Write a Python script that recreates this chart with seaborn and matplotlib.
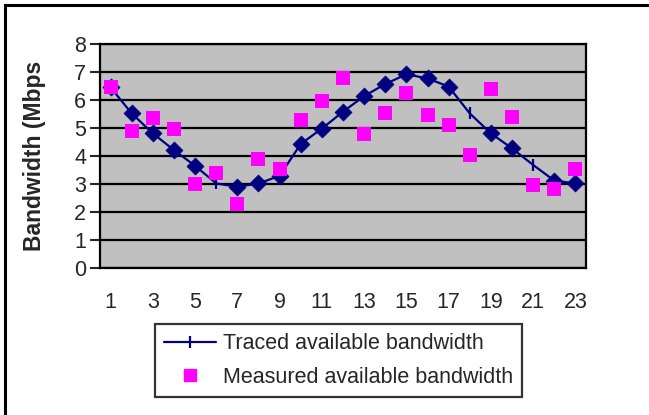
import numpy as np
import pandas as pd
import matplotlib
matplotlib.use("Agg")
import matplotlib.pyplot as plt
import seaborn as sns
from matplotlib.lines import Line2D
from matplotlib.patches import Rectangle

# Data
samples = list(range(1, 24))
traced = [6.45, 5.52, 4.81, 4.21, 3.65, 3.02, 2.90, 3.02, 3.29, 4.43, 4.98, 5.58,
          6.14, 6.57, 6.92, 6.77, 6.48, 5.52, 4.81, 4.27, 3.68, 3.12, 3.02]
measured = [6.48, 4.90, 5.37, 4.98, 3.01, 3.40, 2.27, 3.90, 3.55, 5.29, 5.98, 6.80,
            4.79, 5.55, 6.24, 5.48, 5.11, 4.05, 6.39, 5.40, 2.98, 2.83, 3.55]
# points of the traced series drawn with only the tick marker (no diamond)
tick_only = [6, 18, 21]
x_labels = [str(i) for i in range(1, 24, 2)]

df = pd.DataFrame({"sample": samples, "traced": traced, "measured": measured})
diamonds = df[~df["sample"].isin(tick_only)]

sns.set_style("white")
plt.rcParams['font.family'] = ['Liberation Sans', 'DejaVu Sans']

navy = "#000080"
magenta = "#FF00FF"

fig = plt.figure(figsize=(6.49, 4.15), dpi=100)
ax = fig.add_axes([100/649, 1-268/415, 486/649, 224/415])
ax.set_facecolor("#C0C0C0")

# outer chart border (top and left visible, rest cropped)
fig.patches.append(Rectangle((5/649, -0.1), 1.2, 1-5/415+0.1, transform=fig.transFigure,
                             fill=False, edgecolor="black", linewidth=2.2))

sns.lineplot(data=df, x="sample", y="traced", ax=ax, color=navy, linewidth=1.6,
             marker="|", markersize=9, markeredgewidth=1.6, markeredgecolor=navy, zorder=3)
sns.scatterplot(data=diamonds, x="sample", y="traced", ax=ax, marker="D", s=75,
                color=navy, edgecolor=navy, linewidth=0.5, zorder=4)
sns.scatterplot(data=df, x="sample", y="measured", ax=ax, marker="s", s=115,
                color=magenta, edgecolor=magenta, linewidth=0, zorder=5)

ax.set_xlim(0.5, 23.5)
ax.set_ylim(0, 8)
ax.set_yticks(range(0, 9))
ax.yaxis.grid(True, color="black", linewidth=1.6)
ax.set_axisbelow(True)
ax.set_xticks(range(1, 24, 2))
ax.set_xticklabels(x_labels)
ax.set_xticks(np.arange(0.5, 24, 1), minor=True)
ax.tick_params(axis="x", which="major", length=0, pad=17.5, labelsize=15.5)
ax.tick_params(axis="x", which="minor", length=5, width=1.5, color="black", direction="out")
ax.tick_params(axis="y", which="major", length=7, width=1.5, pad=3, labelsize=15.5,
               direction="out", left=True)
ax.set_xlabel("")
ax.set_ylabel("")
for side in ["left", "right", "top", "bottom"]:
    ax.spines[side].set_visible(True)
    ax.spines[side].set_color("black")
    ax.spines[side].set_linewidth(1.6)

fig.text(35/649, 1-156/415, "Bandwidth (Mbps", rotation=90, fontsize=16.5,
         fontweight="bold", ha="center", va="center")

handles = [Line2D([], [], color=navy, linewidth=1.6, marker="|", markersize=9,
                  markeredgewidth=1.6),
           Line2D([], [], color=magenta, linestyle="", marker="s", markersize=9)]
leg = fig.legend(handles, ["Traced available bandwidth", "Measured available bandwidth"],
                 loc="upper left", bbox_to_anchor=(155/649, 1-324/415), fontsize=15.5,
                 frameon=True, fancybox=False, handlelength=2.4, handletextpad=0.35,
                 labelspacing=0.6, borderpad=0.42, borderaxespad=0)
leg.get_frame().set_edgecolor("black")
leg.get_frame().set_linewidth(1.6)

fig.savefig("out.png", dpi=100)
